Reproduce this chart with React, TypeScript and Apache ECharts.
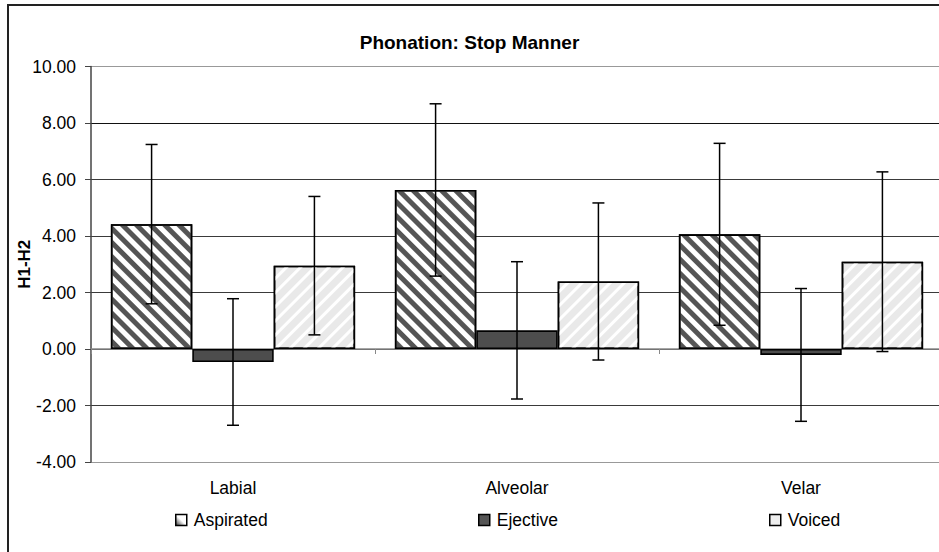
import React, { useEffect, useRef } from "react";
import * as echarts from "echarts";

const categories = ["Labial", "Alveolar", "Velar"];
const seriesNames = ["Aspirated", "Ejective", "Voiced"];
const aspiratedMean = [4.42, 5.63, 4.06];
const ejectiveMean = [-0.46, 0.66, -0.21];
const voicedMean = [2.95, 2.39, 3.09];
const aspiratedErr = [2.82, 3.05, 3.22];
const ejectiveErr = [2.24, 2.43, 2.35];
const voicedErr = [2.45, 2.78, 3.18];
const yTicks = { min: -4, max: 10, interval: 2 };

const FONT = "'Liberation Sans', Arial, sans-serif";
const CAT_GAP = 0.14;

export default function App() {
  const ref = useRef<HTMLDivElement>(null);
  useEffect(() => {
    document.body.style.margin = "0";
    if (!ref.current) return;
    const chart = echarts.init(ref.current, undefined, { renderer: "svg" });

    const means = [aspiratedMean, ejectiveMean, voicedMean];
    const errs = [aspiratedErr, ejectiveErr, voicedErr];
    const errData: number[][] = [];
    means.forEach((m, s) => {
      m.forEach((v, c) => {
        errData.push([c, v - errs[s][c], v + errs[s][c], s]);
      });
    });

    const barStyles = [
      {
        color: "#ffffff",
        borderColor: "#000",
        borderWidth: 1.6,
        decal: {
          symbol: "rect",
          symbolSize: 1,
          color: "#555555",
          dashArrayX: [1, 0],
          dashArrayY: [5, 5],
          rotation: Math.PI / 4,
        },
      },
      { color: "#4d4d4d", borderColor: "#000", borderWidth: 1.6 },
      {
        color: "#e9e9e9",
        borderColor: "#000",
        borderWidth: 1.6,
        decal: {
          symbol: "rect",
          symbolSize: 1,
          color: "#ffffff",
          dashArrayX: [1, 0],
          dashArrayY: [3, 7],
          rotation: -Math.PI / 4,
        },
      },
    ];

    const legendIcons = [
      {
        color: new echarts.graphic.LinearGradient(1, 0, 0, 1, [
          { offset: 0, color: "#ffffff" },
          { offset: 0.5, color: "#ffffff" },
          { offset: 1, color: "#333333" },
        ]),
        borderColor: "#000",
        borderWidth: 1.5,
        decal: "none",
      },
      { color: "#555555", borderColor: "#000", borderWidth: 1.5, decal: "none" },
      { color: "#eeeeee", borderColor: "#000", borderWidth: 1.5, decal: "none" },
    ];
    const legendLefts = [175, 478, 769];

    const option: any = {
      animation: false,
      backgroundColor: "#ffffff",
      textStyle: { fontFamily: FONT },
      title: {
        text: "Phonation: Stop Manner",
        left: "center",
        top: 27,
        textStyle: { fontSize: 19, fontWeight: "bold", color: "#000", fontFamily: FONT, lineHeight: 20 },
      },
      legend: seriesNames.map((n, i) => ({
        data: [{ name: n, icon: "rect", itemStyle: legendIcons[i] }],
        icon: "rect",
        left: legendLefts[i],
        top: 510,
        padding: 0,
        itemWidth: 11,
        itemHeight: 11,
        selectedMode: false,
        textStyle: { fontSize: 17.5, color: "#000", fontFamily: FONT, lineHeight: 20, padding: [0, 0, 0, 2] },
      })),
      grid: {
        left: 91,
        top: 66.5,
        width: 852,
        height: 395.5,
        containLabel: false,
        outerBoundsMode: "none",
      },
      xAxis: [
        {
          type: "category",
          data: categories,
          position: "bottom",
          axisLine: { show: false, onZero: false },
          axisTick: { show: false },
          axisLabel: { fontSize: 17.5, color: "#000", margin: 17, fontFamily: FONT },
          splitLine: { show: false },
        },
        {
          type: "category",
          data: categories,
          position: "bottom",
          axisLine: { show: true, onZero: true, lineStyle: { color: "#888", width: 1.5 } },
          axisTick: { show: true, length: 5, lineStyle: { color: "#888", width: 1 } },
          axisLabel: { show: false },
          splitLine: { show: false },
        },
      ],
      yAxis: {
        type: "value",
        min: yTicks.min,
        max: yTicks.max,
        interval: yTicks.interval,
        name: "H1-H2",
        nameLocation: "middle",
        nameRotate: 90,
        nameGap: 58,
        nameMoveOverlap: false,
        nameTextStyle: { fontSize: 17, fontWeight: "bold", color: "#000", fontFamily: FONT },
        axisLine: { show: true, lineStyle: { color: "#444", width: 1.5 } },
        axisTick: { show: true, length: 6, lineStyle: { color: "#444", width: 1 } },
        axisLabel: {
          fontSize: 17.5,
          color: "#000",
          margin: 15,
          fontFamily: FONT,
          formatter: (v: number) => v.toFixed(2),
        },
        splitLine: {
          show: true,
          lineStyle: {
            color: ["#999", "#3a3a3a", "#3a3a3a", "#3a3a3a", "#3a3a3a", "#3a3a3a", "#111", "#999"],
            width: 1,
          },
        },
      },
      series: [
        ...seriesNames.map((n, i) => ({
          name: n,
          type: "bar",
          xAxisIndex: 0,
          data: means[i],
          barGap: "0%",
          barCategoryGap: CAT_GAP * 100 + "%",
          itemStyle: barStyles[i],
          z: 2,
        })),
        {
          type: "custom",
          xAxisIndex: 0,
          data: errData,
          encode: { x: 0, y: [1, 2] },
          z: 5,
          renderItem: (params: any, api: any) => {
            const c = api.value(0);
            const lo = api.value(1);
            const hi = api.value(2);
            const s = api.value(3);
            const band = api.size([1, 0])[0];
            const bw = (band * (1 - CAT_GAP)) / 3;
            const cx = api.coord([c, 0])[0] + (s - 1) * bw;
            const yt = api.coord([c, hi])[1];
            const yb = api.coord([c, lo])[1];
            const cap = 6;
            const st = { stroke: "#000", lineWidth: 1.5 };
            return {
              type: "group",
              children: [
                { type: "line", shape: { x1: cx, y1: yt, x2: cx, y2: yb }, style: st },
                { type: "line", shape: { x1: cx - cap, y1: yt, x2: cx + cap, y2: yt }, style: st },
                { type: "line", shape: { x1: cx - cap, y1: yb, x2: cx + cap, y2: yb }, style: st },
              ],
            };
          },
        },
      ],
      graphic: [
        {
          type: "rect",
          shape: { x: 8, y: 5, width: 960, height: 600 },
          style: { fill: "none", stroke: "#222", lineWidth: 2 },
          silent: true,
          z: 100,
        },
      ],
    };

    chart.setOption(option);
    return () => chart.dispose();
  }, []);
  return <div ref={ref} style={{ width: 939, height: 552 }} />;
}
